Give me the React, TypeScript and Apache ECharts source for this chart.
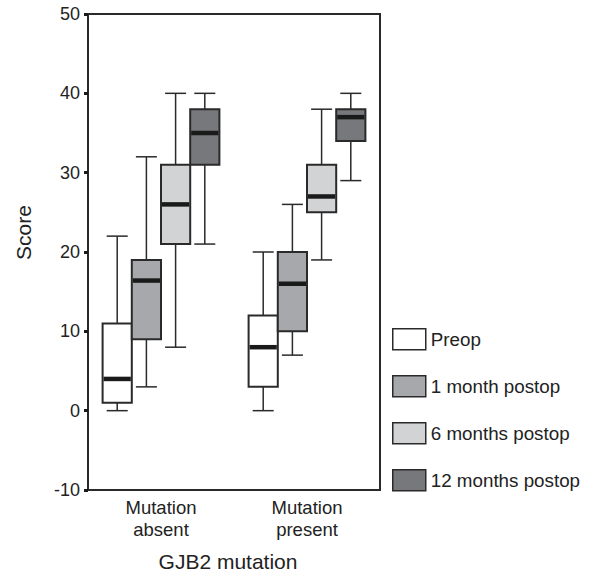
import React, { useEffect, useRef } from "react";
import * as echarts from "echarts";

const categories = ["Mutation\nabsent", "Mutation\npresent"];
const seriesNames = ["Preop", "1 month postop", "6 months postop", "12 months postop"];
const seriesColors = ["#ffffff", "#a7a8ab", "#d2d3d5", "#77787b"];
// [min, Q1, median, Q3, max] per category
const preop = [
  [0, 1, 4, 11, 22],
  [0, 3, 8, 12, 20],
];
const month1 = [
  [3, 9, 16.4, 19, 32],
  [7, 10, 16, 20, 26],
];
const month6 = [
  [8, 21, 26, 31, 40],
  [19, 25, 27, 31, 38],
];
const month12 = [
  [21, 31, 35, 38, 40],
  [29, 34, 37, 38, 40],
];
const yTicks = { min: -10, max: 50, interval: 10 };

const allSeries = [preop, month1, month6, month12];
const FONT = "'Liberation Sans', Arial, Helvetica, sans-serif";
const INK = "#222222";

export default function App() {
  const ref = useRef<HTMLDivElement>(null);
  useEffect(() => {
    document.body.style.margin = "0";
    if (!ref.current) return;
    const chart = echarts.init(ref.current, null, { renderer: "svg" });
    const n = allSeries.length;
    const series = allSeries.map((vals, sIdx) => ({
      type: "custom",
      name: seriesNames[sIdx],
      itemStyle: { color: seriesColors[sIdx] },
      data: vals.map((v, i) => [i, ...v]),
      renderItem: (params: any, api: any) => {
        const cat = api.value(0);
        const band = api.size([1, 0])[0];
        const boxW = band * 0.2;
        const cx = api.coord([cat, 0])[0] + (sIdx - (n - 1) / 2) * boxW;
        const y = (k: number) => api.coord([cat, api.value(k)])[1];
        const yMin = y(1), yQ1 = y(2), yMed = y(3), yQ3 = y(4), yMax = y(5);
        const capHalf = boxW * 0.36;
        const lineStyle = { stroke: "#2a2a2a", lineWidth: 1.5 };
        return {
          type: "group",
          children: [
            { type: "line", shape: { x1: cx, y1: yMax, x2: cx, y2: yQ3 }, style: lineStyle },
            { type: "line", shape: { x1: cx, y1: yQ1, x2: cx, y2: yMin }, style: lineStyle },
            { type: "line", shape: { x1: cx - capHalf, y1: yMax, x2: cx + capHalf, y2: yMax }, style: lineStyle },
            { type: "line", shape: { x1: cx - capHalf, y1: yMin, x2: cx + capHalf, y2: yMin }, style: lineStyle },
            {
              type: "rect",
              shape: { x: cx - boxW / 2, y: yQ3, width: boxW, height: yQ1 - yQ3 },
              style: { fill: seriesColors[sIdx], stroke: "#2a2a2a", lineWidth: 2 },
            },
            {
              type: "line",
              shape: { x1: cx - boxW / 2 + 1, y1: yMed, x2: cx + boxW / 2 - 1, y2: yMed },
              style: { stroke: "#1a1a1a", lineWidth: 4.5 },
            },
          ],
        };
      },
    }));

    chart.setOption({
      animation: false,
      textStyle: { fontFamily: FONT },
      grid: {
        left: 88,
        top: 14,
        width: 292,
        height: 476,
        show: true,
        borderColor: "#2a2a2a",
        borderWidth: 2,
        backgroundColor: "transparent",
      },
      legend: {
        orient: "vertical",
        left: 392,
        top: 328,
        padding: 0,
        itemWidth: 33,
        itemHeight: 21,
        itemGap: 24.5,
        icon: "rect",
        textStyle: { fontSize: 18.8, color: INK, fontFamily: FONT },
        data: seriesNames.map((name, i) => ({
          name,
          itemStyle: { color: seriesColors[i], borderColor: "#2a2a2a", borderWidth: 1.5 },
        })),
      },
      xAxis: {
        type: "category",
        data: categories,
        name: "GJB2 mutation",
        nameLocation: "middle",
        nameGap: 61,
        nameTextStyle: { fontSize: 21, color: INK, fontFamily: FONT, padding: [0, 12, 0, 0] },
        axisLine: { onZero: false, lineStyle: { color: "#2a2a2a", width: 2 } },
        axisTick: { alignWithLabel: true, length: 4, lineStyle: { color: "#1a1a1a", width: 3 } },
        axisLabel: { fontSize: 18.5, lineHeight: 22, color: INK, margin: 6, fontFamily: FONT },
        splitLine: { show: false },
      },
      yAxis: {
        type: "value",
        min: yTicks.min,
        max: yTicks.max,
        interval: yTicks.interval,
        name: "Score",
        nameLocation: "middle",
        nameGap: 54,
        nameRotate: 90,
        nameTextStyle: { fontSize: 21, color: INK, fontFamily: FONT, padding: [0, 0, 0, 39] },
        axisLine: { show: true, onZero: false, lineStyle: { color: "#2a2a2a", width: 2 } },
        axisTick: { show: true, length: 4, lineStyle: { color: "#1a1a1a", width: 3 } },
        axisLabel: { fontSize: 18, color: INK, margin: 8, fontFamily: FONT },
        splitLine: { show: false },
      },
      series,
    });
    return () => chart.dispose();
  }, []);
  return <div ref={ref} style={{ width: 590, height: 577 }} />;
}
